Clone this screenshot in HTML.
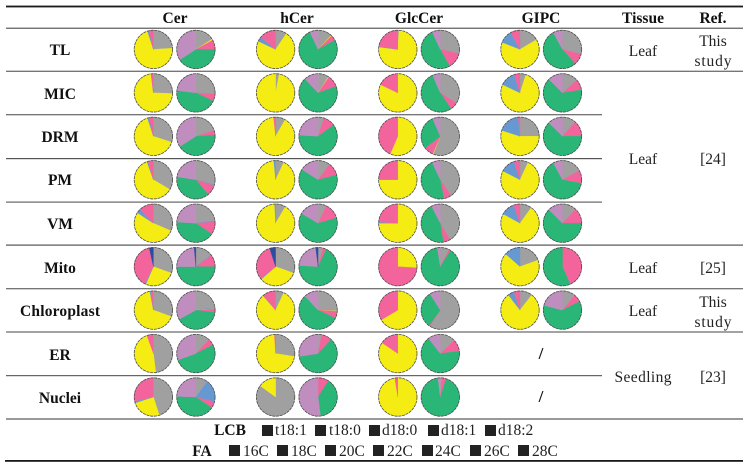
<!DOCTYPE html>
<html lang="en">
<head>
<meta charset="utf-8">
<title>Sphingolipid composition table</title>
<style>
  html, body { margin: 0; padding: 0; background: #fff; }
  svg { display: block; filter: blur(0.35px); }
  text { font-family: "Liberation Serif", serif; fill: #111; font-size: 15.5px; }
  .b { font-weight: bold; text-anchor: middle; font-size: 15.5px; }
  .c { text-anchor: middle; fill: #222; }
  .l { fill: #222; font-size: 15.5px; }
  .s { font-size: 17px; fill: #111; font-weight: bold; }
</style>
</head>
<body>
<svg id="chart" width="749" height="464" viewBox="0 0 749 464" xmlns="http://www.w3.org/2000/svg">
  <g>
    <rect x="6" y="5.6" width="737" height="1.8" fill="#1a1a1a"/>
    <rect x="6" y="27.6" width="737" height="1.3" fill="#666"/>
    <rect x="6" y="70.7" width="737" height="1.1" fill="#555"/>
    <rect x="6" y="114.1" width="596" height="1.2" fill="#666"/>
    <rect x="6" y="158" width="596" height="1.2" fill="#555"/>
    <rect x="6" y="201.5" width="596" height="1.2" fill="#666"/>
    <rect x="6" y="244.5" width="737" height="1.2" fill="#555"/>
    <rect x="6" y="288.1" width="737" height="1.2" fill="#666"/>
    <rect x="6" y="331.4" width="737" height="1.2" fill="#666"/>
    <rect x="6" y="375.1" width="596" height="1.1" fill="#555"/>
    <rect x="6" y="418.4" width="737" height="1.2" fill="#555"/>
    <rect x="5" y="460" width="738" height="1.8" fill="#1a1a1a"/>
  </g>

  <g>
    <text class="b" x="175" y="23">Cer</text>
    <text class="b" x="297" y="23">hCer</text>
    <text class="b" x="419" y="23">GlcCer</text>
    <text class="b" x="541" y="23">GIPC</text>
    <text class="b" x="643" y="23">Tissue</text>
    <text class="b" x="713" y="23">Ref.</text>
  </g>

  <g>
    <text class="b" x="60" y="55">TL</text>
    <text class="b" x="60" y="99">MIC</text>
    <text class="b" x="60" y="142">DRM</text>
    <text class="b" x="60" y="185">PM</text>
    <text class="b" x="60" y="229">VM</text>
    <text class="b" x="60" y="273">Mito</text>
    <text class="b" x="60" y="316" textLength="80">Chloroplast</text>
    <text class="b" x="60" y="360">ER</text>
    <text class="b" x="60" y="403">Nuclei</text>
  </g>

  <g>
    <text class="c" x="643" y="56">Leaf</text>
    <text class="c" x="643" y="164">Leaf</text>
    <text class="c" x="643" y="273">Leaf</text>
    <text class="c" x="643" y="316">Leaf</text>
    <text class="c" x="643" y="382" textLength="57">Seedling</text>
  </g>

  <g>
    <text class="c" x="713" y="46">This</text>
    <text class="c" x="713" y="66" textLength="37">study</text>
    <text class="c" x="713" y="164">[24]</text>
    <text class="c" x="713" y="273">[25]</text>
    <text class="c" x="713" y="307">This</text>
    <text class="c" x="713" y="327" textLength="37">study</text>
    <text class="c" x="713" y="382">[23]</text>
  </g>

  <g>
    <text class="c s" x="541" y="359">/</text>
    <text class="c s" x="541" y="402">/</text>
  </g>

  <g id="pies"></g>

  <g>
    <text class="b" x="230" y="435">LCB</text>
    <rect x="262" y="425" width="11" height="11" fill="#222"/>
    <text class="l" x="275" y="435">t18:1</text>
    <rect x="315" y="425" width="11" height="11" fill="#222"/>
    <text class="l" x="329" y="435">t18:0</text>
    <rect x="369" y="425" width="11" height="11" fill="#222"/>
    <text class="l" x="382" y="435">d18:0</text>
    <rect x="428" y="425" width="11" height="11" fill="#222"/>
    <text class="l" x="441" y="435">d18:1</text>
    <rect x="485" y="425" width="11" height="11" fill="#222"/>
    <text class="l" x="498" y="435">d18:2</text>

    <text class="b" x="202" y="456">FA</text>
    <rect x="229" y="445" width="11" height="11" fill="#222"/>
    <text class="l" x="243" y="456">16C</text>
    <rect x="277" y="445" width="11" height="11" fill="#222"/>
    <text class="l" x="291" y="456">18C</text>
    <rect x="325" y="445" width="11" height="11" fill="#222"/>
    <text class="l" x="339" y="456">20C</text>
    <rect x="373" y="445" width="11" height="11" fill="#222"/>
    <text class="l" x="387" y="456">22C</text>
    <rect x="422" y="445" width="11" height="11" fill="#222"/>
    <text class="l" x="435" y="456">24C</text>
    <rect x="470" y="445" width="11" height="11" fill="#222"/>
    <text class="l" x="484" y="456">26C</text>
    <rect x="518" y="445" width="11" height="11" fill="#222"/>
    <text class="l" x="532" y="456">28C</text>
  </g>
</svg>

<script>
// Categories
const rowNames = ['tl', 'mic', 'drm', 'pm', 'vm', 'mito', 'chloroplast', 'er', 'nuclei'];
const classNames = ['cer', 'hcer', 'glccer', 'gipc'];

// Segment names, in clockwise drawing order starting at 12 o'clock
const lcbSegments = ['gray', 'yellow', 'blue', 'pink', 'navy'];
const faSegments = ['gray', 'blue', 'yellow', 'pink', 'green', 'purple', 'navy'];

// Percent shares per row: LCB pies [gray, yellow, blue, pink, navy]
const cerLcb = [
  [24, 71, 1.5, 3.5, 0], [25.5, 72.5, 0.2, 1.8, 0], [30, 65, 1.5, 3.5, 0],
  [33.5, 61, 1, 4.5, 0], [31.5, 52.7, 3.5, 12.3, 0], [30.5, 26, 1, 39, 3.5],
  [30.5, 66.5, 1, 2, 0], [48, 46.5, 0, 5.5, 0], [45, 25, 1.5, 28.5, 0]
];
const hcerLcb = [
  [9.5, 72.5, 4, 14, 0], [3, 97, 0, 0, 0], [8.3, 90, 0, 1.7, 0],
  [7, 91.5, 1.5, 0, 0], [8.5, 90.7, 0.8, 0, 0], [30.5, 33, 0.5, 31, 5],
  [7, 81.5, 0.3, 11.2, 0], [27.5, 71.5, 0, 1, 0], [85, 15, 0, 0, 0]
];
const glccerLcb = [
  [1, 76, 0.5, 22.5, 0], [0, 82, 0, 18, 0], [0, 56.5, 0, 43.5, 0],
  [0, 75, 0, 25, 0], [0, 75, 1, 24, 0], [0.5, 25.5, 0, 74, 0],
  [0.5, 66, 0, 33.5, 0], [0, 84.5, 0, 15.5, 0], [0, 97.5, 0, 2.5, 0]
];
const gipcLcb = [
  [16.5, 64.5, 11, 8, 0], [5, 77, 13, 5, 0], [25, 55, 18.5, 1.5, 0],
  [7, 75.5, 12.5, 5, 0], [10, 73, 11.5, 5.5, 0], [19.5, 67, 13.5, 0, 0],
  [10.5, 79, 5.5, 5, 0], null, null
];

// Percent shares per row: FA pies [gray, blue, yellow, pink, green, purple, navy]
const cerFa = [
  [16, 0, 1, 8, 41, 34, 0], [26, 0, 0, 6, 45, 23, 0], [20, 0, 0, 4, 42, 34, 0],
  [29.5, 0.5, 0, 9, 38.5, 22.5, 0], [23, 1, 0, 10.5, 41.5, 24, 0], [14.5, 0.5, 0, 10, 50, 23.5, 1.5],
  [22.8, 1, 0.2, 3, 40, 33, 0], [12, 0, 0, 5.5, 52, 30.5, 0], [10, 19, 0, 5.5, 41, 24.5, 0]
];
const hcerFa = [
  [12, 0, 0.5, 4.5, 76, 7, 0], [9, 0, 0.5, 10, 68.5, 12, 0], [5, 0, 0, 10, 61, 24, 0],
  [10, 0, 0, 11, 63, 16, 0], [7, 0, 0, 13.5, 63, 16.5, 0], [4, 0, 0, 3, 69, 22, 2],
  [25, 0.5, 0.5, 6, 56, 12, 0], [3, 0, 0, 9, 60.5, 27.5, 0], [0, 0, 0, 9, 39, 52, 0]
];
const glccerFa = [
  [28.5, 0, 0, 13.5, 51, 7, 0], [34, 0, 0, 6.5, 53, 6.5, 0], [56, 0, 0.5, 8, 29, 6.5, 0],
  [40.5, 0, 0, 6.5, 46, 7, 0], [41.5, 0, 0, 6, 45, 7.5, 0], [7.5, 0, 0, 1.5, 88.5, 2.5, 0],
  [59, 0, 0, 1, 31, 9, 0], [13, 0, 0, 10, 66.5, 10.5, 0], [1.5, 0, 0, 3.5, 93, 2, 0]
];
const gipcFa = [
  [29, 0, 0, 9.5, 53.5, 8, 0], [13.5, 0, 0, 9, 65, 12.5, 0], [11.5, 0, 0, 13.5, 62.5, 12.5, 0],
  [17, 0, 0, 11, 64, 8, 0], [12, 0, 0, 13, 62.5, 12.5, 0], [0, 0, 0, 43.5, 56.5, 0, 0],
  [11, 0, 0, 6.5, 61.5, 21, 0], null, null
];

const segmentColors = {
  gray: '#a0a0a1', yellow: '#f5ec14', blue: '#6699d2', pink: '#f2649b',
  navy: '#2c4ca2', green: '#2ab677', purple: '#bf8dbe'
};

const SVG_NS = 'http://www.w3.org/2000/svg';
const pieRadius = 19.2;

// Axis functions
function rowY(rowIndex) { return 49.4 + rowIndex * 43.45; }
function classX(classIndex) { return 153.4 + classIndex * 122.2; }
function pairX(classIndex, pairIndex) { return classX(classIndex) + pairIndex * 42.5; }
function shareToAngle(share, total) { return (share / total) * 2 * Math.PI; }
function polar(cx, cy, r, angle) {
  return [cx + r * Math.sin(angle), cy - r * Math.cos(angle)];
}

function drawPie(parent, values, names, cx, cy, label) {
  const group = document.createElementNS(SVG_NS, 'g');
  
  
  parent.appendChild(group);

  const total = values.reduce(function (a, b) { return a + b; }, 0);
  let angle = 0;
  values.forEach(function (value, i) {
    if (value <= 0 || total <= 0) { return; }
    const sweep = shareToAngle(value, total);
    const start = polar(cx, cy, pieRadius, angle);
    const mid = polar(cx, cy, pieRadius, angle + sweep / 2);
    const end = polar(cx, cy, pieRadius, angle + sweep);
    const d = 'M' + cx + ' ' + cy +
      'L' + start[0] + ' ' + start[1] +
      'A' + pieRadius + ' ' + pieRadius + ' 0 0 1 ' + mid[0] + ' ' + mid[1] +
      'A' + pieRadius + ' ' + pieRadius + ' 0 0 1 ' + end[0] + ' ' + end[1] + 'Z';
    const wedge = document.createElementNS(SVG_NS, 'path');
    wedge.setAttribute('d', d);
    wedge.setAttribute('fill', segmentColors[names[i]]);
    wedge.setAttribute('stroke', segmentColors[names[i]]);
    wedge.setAttribute('stroke-width', '0.35');
    wedge.setAttribute('stroke-linejoin', 'round');
    
    
    group.appendChild(wedge);
    angle += sweep;
  });

  const outline = document.createElementNS(SVG_NS, 'circle');
  outline.setAttribute('cx', cx);
  outline.setAttribute('cy', cy);
  outline.setAttribute('r', pieRadius);
  outline.setAttribute('fill', 'none');
  outline.setAttribute('stroke', '#4d4d4d');
  outline.setAttribute('stroke-width', '0.8');
  outline.setAttribute('stroke-dasharray', '3 0.8');
  
  
  group.appendChild(outline);
}

const lcbByClass = [cerLcb, hcerLcb, glccerLcb, gipcLcb];
const faByClass = [cerFa, hcerFa, glccerFa, gipcFa];
const pieLayer = document.getElementById('pies');

classNames.forEach(function (className, c) {
  rowNames.forEach(function (rowName, r) {
    if (lcbByClass[c][r]) {
      drawPie(pieLayer, lcbByClass[c][r], lcbSegments, pairX(c, 0), rowY(r), className + '-' + rowName + '-lcb-pie');
    }
    if (faByClass[c][r]) {
      drawPie(pieLayer, faByClass[c][r], faSegments, pairX(c, 1), rowY(r), className + '-' + rowName + '-fa-pie');
    }
  });
});
</script>
</body>
</html>
